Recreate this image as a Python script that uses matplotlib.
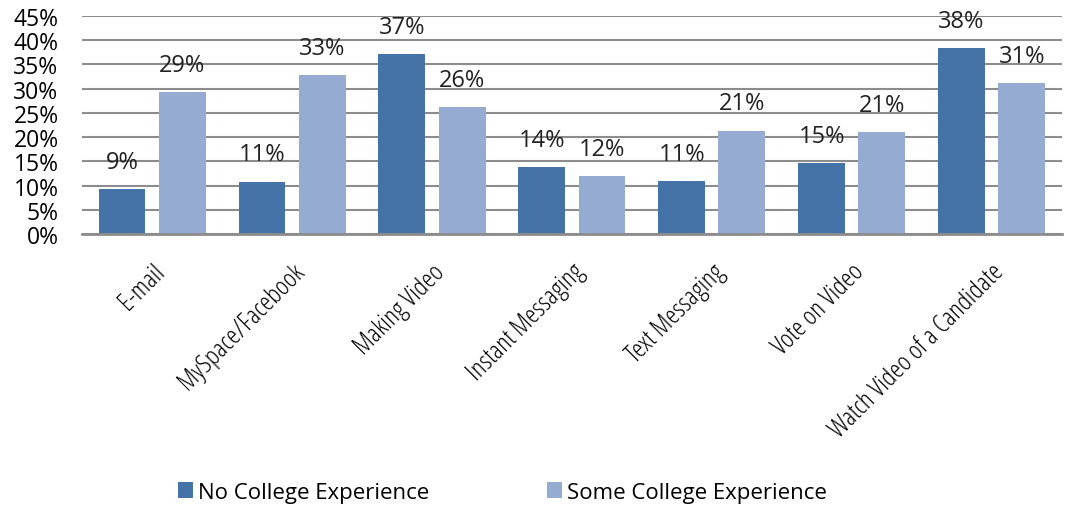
import matplotlib.pyplot as plt
import numpy as np

categories = ["E-mail", "MySpace/Facebook", "Making Video", "Instant Messaging",
              "Text Messaging", "Vote on Video", "Watch Video of a Candidate"]
no_college = [9.2, 10.8, 37.1, 13.8, 10.9, 14.6, 38.3]
some_college = [29.3, 32.8, 26.1, 11.9, 21.3, 21.0, 31.1]
yticks = list(range(0, 50, 5))

plt.rcParams['font.family'] = ['Open Sans', 'DejaVu Sans']

fig = plt.figure(figsize=(10.67, 5.06), dpi=100)
ax = fig.add_axes([0.077, 0.5356, 0.918, 0.431])

x = np.arange(len(categories))
w = 0.335
b1 = ax.bar(x - 0.215, no_college, w, color="#4573A7", label="No College Experience")
b2 = ax.bar(x + 0.215, some_college, w, color="#95ABD2", label="Some College Experience")

# procenta nad sloupci
for bars in (b1, b2):
    for bar in bars:
        h = bar.get_height()
        ax.annotate(f"{h:.0f}%", (bar.get_x() + bar.get_width() / 2, h),
                    xytext=(0, 11), textcoords="offset points",
                    ha="center", va="bottom", fontsize=17, color="#222222")

ax.set_xlim(-0.5, len(categories) - 0.5)
ax.set_ylim(0, 45)
ax.set_yticks(yticks)
ax.set_yticklabels([f"{t}%" for t in yticks], fontsize=16.5)
ax.yaxis.grid(True, color="#8c8c8c", linewidth=1.5)
ax.set_axisbelow(True)
ax.tick_params(axis="y", length=0, pad=17)
ax.tick_params(axis="x", length=0, pad=18)
ax.set_xticks(x)
ax.set_xticklabels(categories, rotation=45, ha="right", rotation_mode="anchor",
                   fontsize=19, fontstretch="condensed")
for s in ["top", "right", "left"]:
    ax.spines[s].set_visible(False)
ax.spines["bottom"].set_color("#8c8c8c")
ax.spines["bottom"].set_linewidth(2)

fig.legend(loc="lower left", bbox_to_anchor=(0.148, -0.035), ncol=2, frameon=False,
           fontsize=16, handlelength=0.7, handleheight=0.7, handletextpad=0.2,
           columnspacing=5.3)

fig.savefig("out.png", dpi=100)
